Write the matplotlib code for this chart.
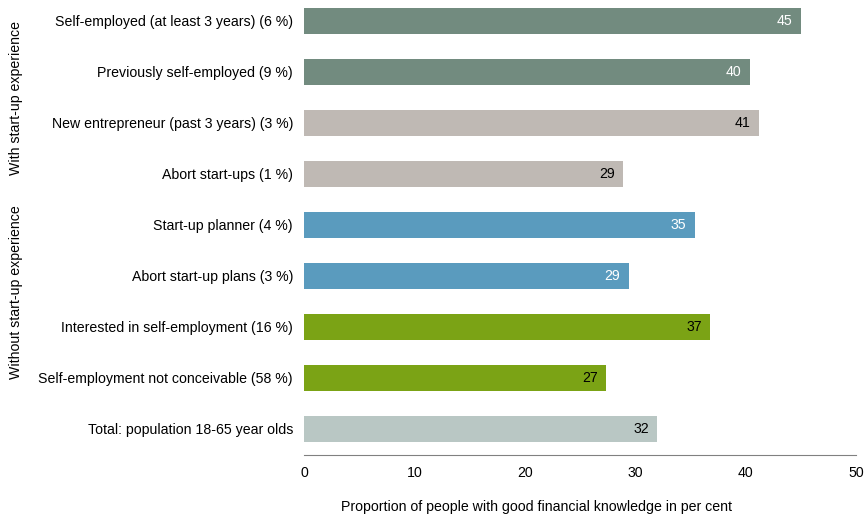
import numpy as np
import matplotlib.pyplot as plt

plt.rcParams['font.family'] = ['Liberation Sans', 'DejaVu Sans']

categories = [
    'Self-employed (at least 3 years) (6 %)',
    'Previously self-employed (9 %)',
    'New entrepreneur (past 3 years) (3 %)',
    'Abort start-ups (1 %)',
    'Start-up planner (4 %)',
    'Abort start-up plans (3 %)',
    'Interested in self-employment (16 %)',
    'Self-employment not conceivable (58 %)',
    'Total: population 18-65 year olds',
]
values = [45.0, 40.4, 41.2, 28.9, 35.4, 29.4, 36.8, 27.4, 32.0]
labels = ['45', '40', '41', '29', '35', '29', '37', '27', '32']
colors = ['#728b7f', '#728b7f', '#bfb9b4', '#bfb9b4', '#5a9bbe', '#5a9bbe',
          '#7ba315', '#7ba315', '#b9c7c4']
label_colors = ['white', 'white', 'black', 'black', 'white', 'white',
                'black', 'black', 'black']
groups = ['With start-up experience', 'Without start-up experience']


def main():
    fs = 10.2
    fig = plt.figure(figsize=(8.66, 5.18), dpi=100)
    ax = fig.add_axes([304 / 866, 63 / 518, 552 / 866, 455 / 518])
    y = np.arange(len(categories))
    ax.barh(y, values, height=0.51, color=colors)
    for i in range(len(values)):
        ax.text(values[i] - 0.75, y[i], labels[i], ha='right', va='center',
                color=label_colors[i], fontsize=fs)

    ax.set_xlim(0, 50)
    ax.set_ylim(8.51, -0.41)
    ax.set_yticks(y)
    ax.set_yticklabels(categories, fontsize=fs)
    ax.set_xticks([0, 10, 20, 30, 40, 50])
    ax.tick_params(axis='both', length=0, labelsize=fs)
    ax.tick_params(axis='y', pad=8)
    ax.tick_params(axis='x', pad=8)
    for s in ['top', 'right', 'left']:
        ax.spines[s].set_visible(False)
    ax.spines['bottom'].set_color('#808080')
    ax.set_xlabel('Proportion of people with good financial knowledge in per cent',
                  fontsize=fs)
    ax.xaxis.set_label_coords(0.422, -0.1)

    fig.text(16 / 866, 1 - 98 / 518, groups[0], rotation=90,
             ha='center', va='center', fontsize=fs)
    fig.text(16 / 866, 1 - 292 / 518, groups[1], rotation=90,
             ha='center', va='center', fontsize=fs)

    fig.savefig('out.png', dpi=100)


if __name__ == "__main__":
    main()
